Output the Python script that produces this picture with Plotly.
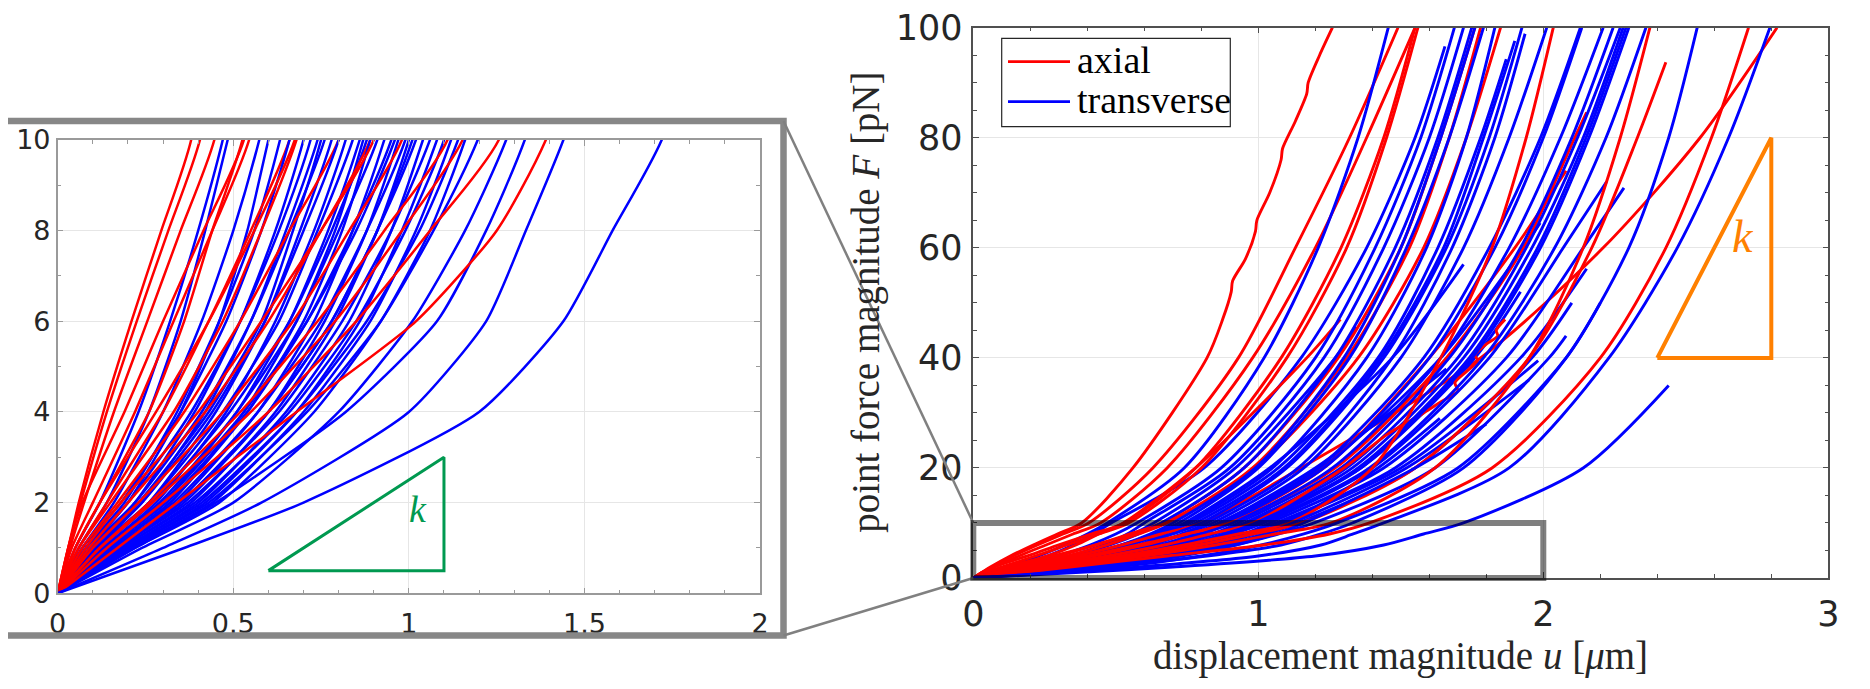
import plotly.graph_objects as go

# force levels (pN) at which the displacement of every curve was read
F_LEVELS = [0, 1, 2, 4, 6, 8, 10, 20, 40, 60, 80, 100]

# axial curves: displacement u (um) at the force levels above
AXIAL_U = [
    [0, .03, .06, .13, .21, .295, .38, .56, .82],
    [0, .03, .065, .14, .225, .315, .405, .63, .93, 1.13, 1.32, 1.49],
    [0, .035, .075, .16, .255, .35, .446, .68, .98, 1.20, 1.38, 1.55],
    [0, .03, .07, .19, .30, .415, .53, .78, 1.08, 1.29, 1.44, 1.55],
    [0, .04, .10, .22, .33, .44, .545, .80, 1.10, 1.31, 1.45, 1.56],
    [0, .05, .12, .26, .36, .44, .526, .78, 1.17, 1.288],
    [0, .06, .14, .30, .43, .55, .66, .95, 1.28, 1.50, 1.64, 1.76],
    [0, .05, .12, .28, .43, .56, .675, .98, 1.31, 1.53, 1.67, 1.78],
    [0, .06, .15, .33, .47, .58, .68, .99, 1.35, 1.58, 1.73, 1.85],
    [0, .07, .17, .36, .52, .66, .80, 1.15, 1.78, 2.21, 2.55, 2.82],
    [0, .09, .20, .42, .60, .75, .89, 1.23, 1.60, 1.90, 2.08],
    [0, .08, .18, .40, .58, .75, .90, 1.27, 1.66, 1.93, 2.11, 2.152],
    [0, .10, .23, .47, .67, .83, .98, 1.30],
    [0, .12, .26, .52, .74, .93, 1.11, 1.40, 1.64, 1.82, 1.94, 2.035],
    [0, .12, .27, .55, .79, .98, 1.153, 1.55, 1.95, 2.17, 2.33, 2.43],
    [0, .14, .30, .60, .85, 1.06, 1.256, 1.62, 1.95, 2.14, 2.27, 2.374],
    [0, .17, .34, .68, 1.02, 1.25, 1.39, 1.82, 2.20, 2.43, 2.59, 2.72],
]
# curves that stop early: index -> force of the last point
AXIAL_END_F = {5: 47, 10: 74, 11: 84.6, 14: 93.7}
# jagged tails of two axial curves: index -> (u, F)
JAG_TAILS = {
    0: ([0.875, 0.905, 0.91, 0.955, 0.99, 0.995, 1.04, 1.08, 1.085, 1.13, 1.17, 1.175, 1.215, 1.26],
        [47, 52, 54, 58, 63, 65, 70, 76, 78, 83, 88, 90, 95, 100]),
    12: ([1.45, 1.58, 1.64, 1.70, 1.69, 1.73, 1.77, 1.76, 1.80, 1.84, 1.835, 1.866],
         [26, 30, 32, 34, 35.5, 37.5, 39.5, 40.5, 42.5, 44, 45, 47]),
}

TRANSVERSE_U = [
    [0, .05, .12, .23, .32, .40, .47, .74, 1.02, 1.21, 1.35, 1.456],
    [0, .06, .14, .26, .35, .42, .484, .81, 1.15, 1.38, 1.55, 1.655],
    [0, .07, .16, .30, .41, .50, .574, .87, 1.20, 1.41, 1.57, 1.688],
    [0, .08, .19, .34, .46, .56, .633, .92, 1.27, 1.345],
    [0, .07, .18, .35, .48, .58, .66, .95, 1.27, 1.48, 1.63, 1.749],
    [0, .10, .22, .39, .52, .62, .70, .99, 1.30, 1.50, 1.64, 1.76],
    [0, .08, .20, .38, .52, .63, .72, 1.00, 1.32, 1.52, 1.67, 1.79],
    [0, .11, .24, .42, .55, .65, .74, 1.04, 1.47, 1.72],
    [0, .09, .22, .41, .55, .66, .76, 1.07, 1.42, 1.63, 1.78, 1.87],
    [0, .12, .26, .45, .59, .69, .78, 1.09, 1.43, 1.65, 1.79, 1.90],
    [0, .10, .24, .44, .59, .70, .80, 1.10, 1.44, 1.66, 1.81, 1.925],
    [0, .13, .28, .48, .62, .73, .82, 1.14, 1.47, 1.68, 1.83, 1.936],
    [0, .11, .26, .47, .63, .74, .84, 1.16, 1.50, 1.72, 1.88, 2.012],
    [0, .14, .30, .51, .66, .77, .86, 1.22, 1.64, 1.93, 1.989],
    [0, .12, .27, .49, .66, .78, .88, 1.21, 1.58, 1.81, 1.99, 2.13],
    [0, .15, .32, .54, .70, .81, .89, 1.23, 1.60, 1.83, 2.00, 2.135],
    [0, .13, .29, .51, .68, .80, .91, 1.26, 1.64, 1.88, 2.06, 2.21],
    [0, .16, .34, .57, .73, .84, .93, 1.29, 1.67, 1.92, 2.10, 2.245],
    [0, .14, .31, .54, .71, .84, .95, 1.31, 1.70, 1.94, 2.12, 2.27],
    [0, .17, .36, .60, .76, .88, .97, 1.33, 1.72, 1.96, 2.14, 2.28],
    [0, .15, .33, .57, .75, .88, .99, 1.35, 1.74, 1.98, 2.15, 2.29],
    [0, .18, .38, .62, .79, .91, 1.00, 1.36, 1.75, 1.99, 2.16, 2.30],
    [0, .16, .35, .60, .78, .91, 1.02, 1.40, 1.81, 2.07, 2.222],
    [0, .19, .40, .65, .83, .95, 1.04, 1.44, 1.87, 2.14, 2.283],
    [0, .17, .37, .63, .81, .95, 1.06, 1.48, 1.92, 2.152],
    [0, .20, .42, .68, .86, .98, 1.08, 1.50, 1.982],
    [0, .18, .39, .66, .85, .99, 1.10, 1.42, 1.637],
    [0, .21, .44, .70, .89, 1.02, 1.12, 1.52, 1.95],
    [0, .19, .41, .68, .88, 1.03, 1.14, 1.55, 1.96, 2.10],
    [0, .22, .46, .73, .92, 1.06, 1.16, 1.55, 1.80],
    [0, .20, .43, .71, .92, 1.07, 1.196, 1.62, 2.02, 2.08],
    [0, .24, .50, .80, 1.01, 1.16, 1.277, 1.70, 2.08, 2.20],
    [0, .22, .45, .82, 1.08, 1.22, 1.33, 1.72, 2.08, 2.30, 2.44, 2.54],
    [0, .30, .58, 1.00, 1.22, 1.333, 1.44, 1.88, 2.23, 2.47, 2.65, 2.795],
    [0, .36, .70, 1.20, 1.44, 1.58, 1.72, 2.14, 2.44],
    [0, .09, .20, .35, .46, .54, .60, .90, 1.23, 1.44, 1.60, 1.72],
    [0, .10, .23, .43, .58, .67, .75, 1.05, 1.38, 1.59, 1.73, 1.83],
    [0, .15, .32, .53, .68, .79, .87, 1.20, 1.66],
    [0, .13, .30, .53, .71, .85, .96, 1.36, 1.76, 1.92],
    [0, .16, .35, .60, .78, .91, 1.01, 1.39, 1.79, 2.04, 2.22, 2.36],
]
TRANSVERSE_END_F = {1: 96.6, 3: 45.6, 7: 57, 8: 94.3, 9: 97.6, 11: 98.9, 13: 64.5,
                    22: 72, 23: 70.9, 24: 56.2, 25: 39.5, 26: 29, 27: 36, 28: 50,
                    29: 28, 30: 44, 31: 50, 34: 35, 37: 38, 38: 52}

LEGEND_NAMES = ["axial", "transverse"]

# stiffness triangles
TRI_LEFT_U = [0.6, 1.1, 1.1, 0.6]
TRI_LEFT_F = [0.5, 0.5, 3, 0.5]
TRI_RIGHT_U = [2.4, 2.8, 2.8, 2.4]
TRI_RIGHT_F = [40, 40, 80, 40]

LEFT_U_RANGE = [0, 2]
LEFT_F_RANGE = [0, 10]
RIGHT_U_RANGE = [0, 3]
RIGHT_F_RANGE = [0, 100]

RED = "#ff0000"
BLUE = "#0000ff"
GREEN = "#009950"
ORANGE = "#ff8000"

W, H = 1870, 689
PAGE_OFFSET = 8  # the page body margin shifts the plot by this much


def px(x):
    return (x - PAGE_OFFSET) / W


def py(y):
    return 1 - (y - PAGE_OFFSET) / H


X1_DOM = [px(57.7), px(760)]
Y1_DOM = [py(593.3), py(140)]
X2_DOM = [px(973.3), px(1828.3)]
Y2_DOM = [py(578), py(27.7)]


def curve(u, end_f):
    f = list(F_LEVELS[:len(u)])
    if end_f is not None:
        f[-1] = end_f
    return list(u), f


curves = []
for i, u in enumerate(AXIAL_U):
    x, y = curve(u, AXIAL_END_F.get(i))
    if i in JAG_TAILS:
        x, y = x + JAG_TAILS[i][0], y + JAG_TAILS[i][1]
    curves.append((u[6], RED, x, y))
for i, u in enumerate(TRANSVERSE_U):
    x, y = curve(u, TRANSVERSE_END_F.get(i))
    curves.append((u[6], BLUE, x, y))

# draw in order of stiffness so the colours interleave
curves.sort(key=lambda c: c[0])

fig = go.Figure()
for xa, ya, sm, lw in (("x", "y", 0.6, 2.5), ("x2", "y2", 0.8, 2.9)):
    for u10, color, x, y in curves:
        fig.add_trace(go.Scatter(x=x, y=y, mode="lines",
                                 line=dict(color=color, width=lw, shape="spline", smoothing=sm),
                                 xaxis=xa, yaxis=ya, showlegend=False, hoverinfo="skip"))

fig.add_trace(go.Scatter(x=TRI_LEFT_U, y=TRI_LEFT_F, mode="lines",
                         line=dict(color=GREEN, width=3), xaxis="x", yaxis="y",
                         showlegend=False, hoverinfo="skip"))
fig.add_trace(go.Scatter(x=TRI_RIGHT_U, y=TRI_RIGHT_F, mode="lines",
                         line=dict(color=ORANGE, width=4), xaxis="x2", yaxis="y2",
                         showlegend=False, hoverinfo="skip"))

tick_font_small = dict(family="DejaVu Sans", size=27, color="#262626")
tick_font_big = dict(family="DejaVu Sans", size=35, color="#262626")


def axis_style(dom, rng, dtick, minor, font, linecolor, anchor, standoff):
    return dict(domain=dom, range=rng, dtick=dtick, tick0=0, ticks="inside", ticklen=6,
                tickcolor=linecolor, showline=True, linecolor=linecolor, linewidth=1.5,
                mirror="ticks", showgrid=True, gridcolor="#e6e6e6", zeroline=False,
                tickfont=font, anchor=anchor, ticklabelstandoff=standoff,
                ticklabeloverflow="allow", automargin=False,
                minor=dict(dtick=minor, tick0=0, ticks="inside", ticklen=4,
                           tickcolor=linecolor, showgrid=False))


fig.update_layout(
    width=W, height=H,
    margin=dict(l=0, r=0, t=0, b=0, pad=0, autoexpand=False),
    paper_bgcolor="white", plot_bgcolor="white",
    xaxis=axis_style(X1_DOM, LEFT_U_RANGE, 0.5, 0.1, tick_font_small, "#9a9a9a", "y", 6),
    yaxis=axis_style(Y1_DOM, LEFT_F_RANGE, 2, 1, tick_font_small, "#9a9a9a", "x", 0),
    xaxis2=axis_style(X2_DOM, RIGHT_U_RANGE, 1, 0.2, tick_font_big, "#505050", "y2", 4),
    yaxis2=axis_style(Y2_DOM, RIGHT_F_RANGE, 20, 5, tick_font_big, "#505050", "x2", 2),
    showlegend=False,
)

# frame around the zoomed panel and connectors to the box in the right panel
FRAME = dict(x0=px(3.5), x1=px(783.5), y0=py(635.5), y1=py(121))
box_top = Y2_DOM[0] + (LEFT_F_RANGE[1] / RIGHT_F_RANGE[1]) * (Y2_DOM[1] - Y2_DOM[0])
fig.add_shape(type="rect", xref="paper", yref="paper", **FRAME,
              line=dict(color="#878787", width=6.5), layer="above")
fig.add_shape(type="line", xref="paper", yref="paper", x0=FRAME["x1"], y0=FRAME["y1"],
              x1=X2_DOM[0], y1=box_top, line=dict(color="#808080", width=2.5))
fig.add_shape(type="line", xref="paper", yref="paper", x0=FRAME["x1"], y0=FRAME["y0"],
              x1=X2_DOM[0], y1=Y2_DOM[0], line=dict(color="#808080", width=2.5))
fig.add_shape(type="rect", xref="x2 domain", yref="y2 domain",
              x0=LEFT_U_RANGE[0] / RIGHT_U_RANGE[1], x1=LEFT_U_RANGE[1] / RIGHT_U_RANGE[1],
              y0=0, y1=LEFT_F_RANGE[1] / RIGHT_F_RANGE[1],
              line=dict(color="rgba(0,0,0,0.5)", width=6), layer="above")

serif = "Liberation Serif"

# legend box drawn by hand so that its size matches the original
fig.add_shape(type="rect", xref="paper", yref="paper", x0=px(1001.7), x1=px(1230.3),
              y0=py(126.7), y1=py(38.3), line=dict(color="#262626", width=1.2),
              fillcolor="white", layer="above")
for name, color, yrow in zip(LEGEND_NAMES, (RED, BLUE), (61.7, 101.7)):
    fig.add_shape(type="line", xref="paper", yref="paper", x0=px(1008), x1=px(1070),
                  y0=py(yrow), y1=py(yrow), line=dict(color=color, width=2.8), layer="above")
    fig.add_annotation(text=name, xref="paper", yref="paper", x=px(1075), y=py(yrow - 2),
                       showarrow=False, xanchor="left", yanchor="middle",
                       font=dict(family=serif, size=38, color="black"))

fig.add_annotation(text="displacement magnitude <i>u</i> [<i>μ</i>m]", xref="paper", yref="paper",
                   x=(X2_DOM[0] + X2_DOM[1]) / 2, y=py(656), showarrow=False,
                   xanchor="center", yanchor="middle",
                   font=dict(family=serif, size=39, color="#262626"))
fig.add_annotation(text="point force magnitude <i>F</i> [pN]", xref="paper", yref="paper",
                   x=px(866), y=(Y2_DOM[0] + Y2_DOM[1]) / 2, showarrow=False, textangle=-90,
                   xanchor="center", yanchor="middle",
                   font=dict(family=serif, size=39, color="#262626"))
fig.add_annotation(text="<i>k</i>", xref="x", yref="y", x=1.027, y=1.85, showarrow=False,
                   font=dict(family=serif, size=38, color=GREEN))
fig.add_annotation(text="<i>k</i>", xref="x2", yref="y2", x=2.70, y=62, showarrow=False,
                   font=dict(family=serif, size=46, color=ORANGE))

fig.write_html("out.html")
